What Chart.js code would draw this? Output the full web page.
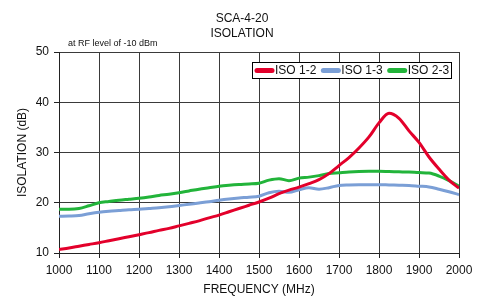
<!DOCTYPE html>
<html>
<head>
<meta charset="utf-8">
<script src="https://cdn.jsdelivr.net/npm/chart.js@4/dist/chart.umd.min.js"></script>
<style>
html,body{margin:0;padding:0;background:#fff;}
#wrap{position:relative;width:484px;height:299px;}
</style>
</head>
<body>
<div id="wrap"><canvas id="c" width="484" height="299"></canvas></div>
<script>
const titleLines = ['SCA-4-20', 'ISOLATION'];
const noteText = 'at RF level of -10 dBm';
const xTitle = 'FREQUENCY (MHz)';
const yTitle = 'ISOLATION (dB)';
const seriesNames = ['ISO 1-2', 'ISO 1-3', 'ISO 2-3'];
const seriesColors = ['#e3002b', '#7b9fd6', '#22b43a'];

const freqs = [1000,1025,1050,1075,1100,1125,1150,1175,1200,1225,1250,1275,1300,1325,1350,1375,1400,1425,1450,1475,1500,1525,1550,1575,1600,1625,1650,1675,1700,1725,1750,1775,1800,1825,1850,1875,1900,1925,1950,1975,2000];

const iso12 = [10.7,11.0,11.35,11.7,12.05,12.45,12.85,13.25,13.65,14.05,14.5,14.9,15.4,15.9,16.4,17.0,17.55,18.2,18.85,19.5,20.15,20.9,21.8,22.5,23.1,23.8,24.6,25.8,27.4,29.0,30.9,33.1,35.9,37.8,36.8,34.3,32.0,29.1,26.7,24.5,22.9];
const iso13 = [17.3,17.35,17.45,17.8,18.1,18.3,18.45,18.6,18.7,18.85,19.0,19.2,19.45,19.7,19.95,20.2,20.5,20.75,20.95,21.1,21.3,22.0,22.3,22.1,22.6,23.0,22.7,23.0,23.45,23.55,23.6,23.6,23.6,23.55,23.5,23.45,23.3,23.15,22.7,22.2,21.6];
const iso23 = [18.7,18.7,18.85,19.4,20.0,20.25,20.5,20.7,20.9,21.15,21.45,21.7,22.0,22.35,22.7,23.0,23.3,23.5,23.65,23.75,23.9,24.5,24.8,24.4,24.9,25.1,25.4,25.8,25.95,26.1,26.2,26.25,26.25,26.2,26.15,26.1,26.0,25.9,25.3,24.4,23.3];

const xTicks = [1000,1100,1200,1300,1400,1500,1600,1700,1800,1900,2000];
const yTicks = [10,20,30,40,50];

const FONT = '"Liberation Sans", Arial, sans-serif';
const seriesValues = [iso12, iso13, iso23];

function pts(vals){ return freqs.map((f,i)=>({x:f,y:vals[i]})); }

const datasets = seriesNames.map((name,i)=>({
  label: name,
  data: pts(seriesValues[i]),
  borderColor: seriesColors[i],
  backgroundColor: seriesColors[i],
  borderWidth: 3,
  pointRadius: 0,
  cubicInterpolationMode: 'monotone',
  fill: false
}));

const textPlugin = {
  id: 'texts',
  afterDraw(chart){
    const ctx = chart.ctx;
    ctx.save();
    ctx.fillStyle = '#111';
    ctx.textAlign = 'center';
    ctx.textBaseline = 'middle';
    ctx.font = '12px ' + FONT;
    ctx.fillText(titleLines[0], 242, 19);
    ctx.fillText(titleLines[1], 242, 34);
    ctx.textAlign = 'left';
    ctx.textBaseline = 'alphabetic';
    ctx.font = '9px ' + FONT;
    ctx.fillText(noteText, 68, 46);
    // legend
    const bx = 252, by = 62, bw = 199, bh = 16;
    ctx.fillStyle = '#fff';
    ctx.fillRect(bx, by, bw, bh);
    ctx.strokeStyle = '#000';
    ctx.lineWidth = 1;
    ctx.strokeRect(bx + 0.5, by + 0.5, bw, bh);
    ctx.font = '12px ' + FONT;
    ctx.textBaseline = 'middle';
    let x = bx + 3;
    const cy = by + bh/2 + 0.5;
    seriesNames.forEach((name,i)=>{
      ctx.strokeStyle = seriesColors[i];
      ctx.lineWidth = 5;
      ctx.lineCap = 'round';
      ctx.beginPath();
      ctx.moveTo(x + 2, cy);
      ctx.lineTo(x + 17, cy);
      ctx.stroke();
      ctx.fillStyle = '#111';
      ctx.fillText(name, x + 20, cy);
      x += 20 + ctx.measureText(name).width + 5;
    });
    ctx.restore();
  }
};

new Chart(document.getElementById('c'), {
  type: 'line',
  data: { datasets },
  plugins: [textPlugin],
  options: {
    responsive: false,
    animation: false,
    devicePixelRatio: 1,
    layout: { padding: { top: 52, right: 25, left: 0, bottom: 0 } },
    plugins: { legend: { display: false }, title: { display: false }, tooltip: { enabled: false } },
    scales: {
      x: {
        type: 'linear',
        min: 1000, max: 2000,
        afterBuildTicks(s){ s.ticks = xTicks.map(v=>({value:v})); },
        afterFit(s){ s.height = 46; },
        ticks: { color: '#111', font: { family: FONT, size: 12 }, padding: 5, maxRotation: 0, autoSkip: false, callback: v => String(v) },
        grid: { color: '#3a3a3a', lineWidth: 1, drawTicks: true, tickLength: 5, tickColor: '#222' },
        border: { display: true, color: '#222', width: 1 },
        title: { display: true, text: xTitle, color: '#111', font: { family: FONT, size: 12 }, padding: { top: 0, bottom: 2 } }
      },
      y: {
        type: 'linear',
        min: 10, max: 50,
        afterBuildTicks(s){ s.ticks = yTicks.map(v=>({value:v})); },
        afterFit(s){ s.width = 59; },
        ticks: { color: '#111', font: { family: FONT, size: 12 }, padding: 5, callback: v => String(v) },
        grid: { color: '#3a3a3a', lineWidth: 1, drawTicks: true, tickLength: 5, tickColor: '#222' },
        border: { display: true, color: '#222', width: 1 },
        title: { display: true, text: yTitle, color: '#111', font: { family: FONT, size: 12 }, padding: { top: 15, bottom: 0 } }
      }
    }
  }
});
</script>
</body>
</html>
